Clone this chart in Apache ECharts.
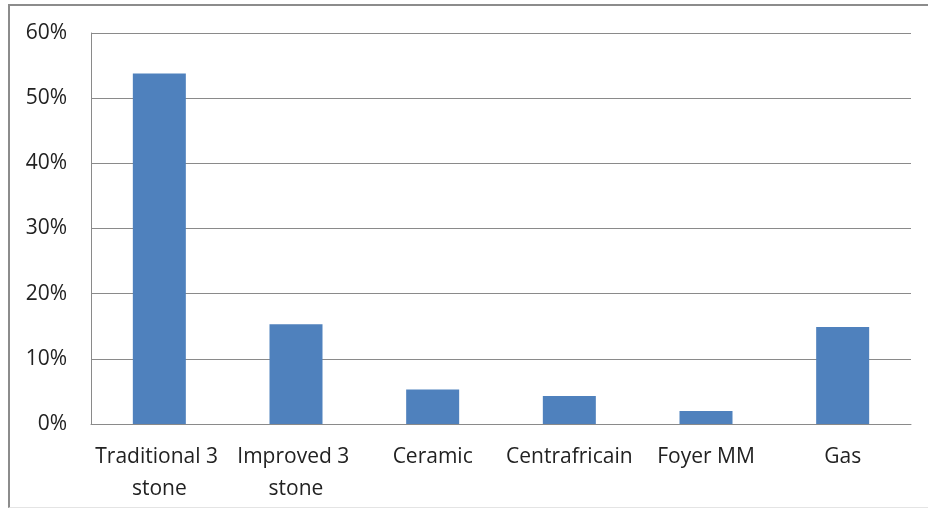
<!DOCTYPE html>
<html>
<head>
<meta charset="utf-8">
<script src="https://cdn.jsdelivr.net/npm/echarts@6/dist/echarts.min.js"></script>
<style>
  html, body { margin: 0; padding: 0; background: #fff; }
  #frame { position: absolute; left: 8px; top: 4px; width: 930px; height: 504px;
           border-left: 2px solid #8c8c8c; border-top: 2px solid #8c8c8c;
           border-bottom: 1px solid #e4e4e4; box-sizing: border-box; }
  #chart { position: absolute; left: 0; top: 0; width: 928px; height: 515px; }
</style>
</head>
<body>
<div id="frame"></div>
<div id="chart"></div>
<script>
// Share of households by cooking stove type
const categories = ['Traditional 3 stone', 'Improved 3 stone', 'Ceramic', 'Centrafricain', 'Foyer MM', 'Gas'];
const shares = [53.8, 15.3, 5.3, 4.3, 2.0, 14.9];
const yTicks = [0, 10, 20, 30, 40, 50, 60];

const chart = echarts.init(document.getElementById('chart'), null, { renderer: 'canvas' });
const font = 'Open Sans';
chart.setOption({
  animation: false,
  grid: { left: 91, right: 17, top: 33, bottom: 91, containLabel: false },
  xAxis: {
    type: 'category',
    data: categories,
    axisLine: { lineStyle: { color: '#8a8a8a', width: 1 } },
    axisTick: { show: false },
    axisLabel: {
      interval: 0, color: '#222', fontFamily: font, fontSize: 21,
      margin: 17, lineHeight: 32, width: 136, overflow: 'break'
    }
  },
  yAxis: {
    type: 'value',
    min: yTicks[0], max: yTicks[yTicks.length - 1], interval: 10,
    axisLine: { show: true, lineStyle: { color: '#8a8a8a', width: 1 } },
    axisTick: { show: false },
    splitLine: { lineStyle: { color: '#8a8a8a', width: 1 } },
    axisLabel: { color: '#222', fontFamily: font, fontSize: 21, margin: 24,
                 formatter: v => v + '%' }
  },
  series: [{
    type: 'bar',
    data: shares,
    barWidth: 53,
    itemStyle: { color: '#4f81bd' }
  }]
});
</script>
</body>
</html>
